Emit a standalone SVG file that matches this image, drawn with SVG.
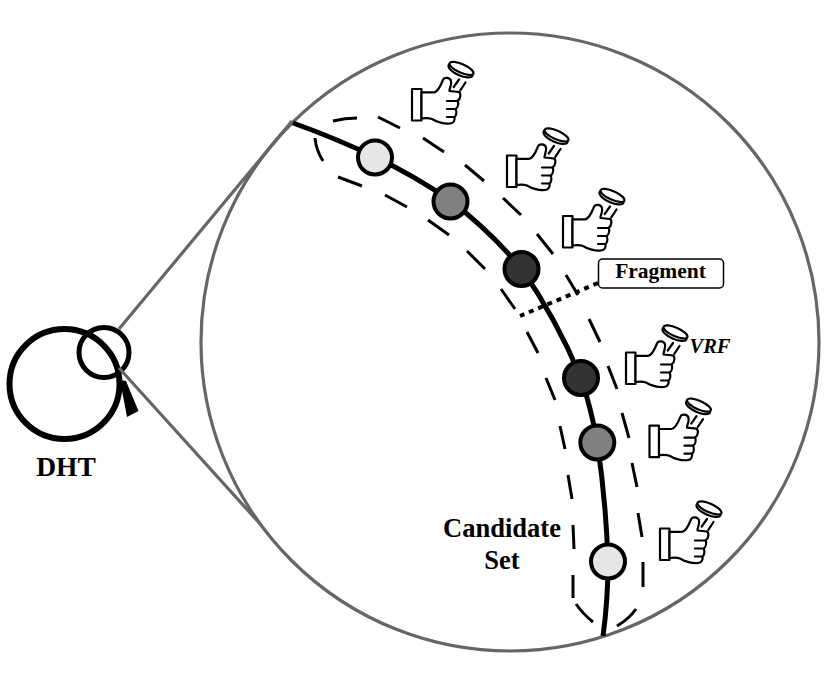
<svg xmlns="http://www.w3.org/2000/svg" width="831" height="684" viewBox="0 0 831 684">
<style>
.zoom{fill:none;stroke:#666;stroke-width:3.2}
.ring{fill:none;stroke:#000}
.node{stroke:#000;stroke-width:4}
.light{fill:#e6e6e6}.mid{fill:#808080}.dark{fill:#333}
.t{font-family:"Liberation Serif","Times New Roman",serif;font-weight:bold;fill:#000;text-anchor:middle}
.h{fill:#fff;stroke:#000;stroke-width:2.2;stroke-linejoin:round;stroke-linecap:round}
</style>
<defs>
<g id="hand">
<rect class="h" x="0" y="0" width="9.500" height="31.500"/>
<path class="h" d="M9.500 3.300H22C26 3 29 -4 31 -9C32 -12 38 -12 39 -8C40 -4 37 0 37.500 2L47 3C49 4 49 10 45.500 12C47 14 46 19 43.500 20C45 22 44.500 27 42.500 28C43 31 42 34 38 34.500C30 35 25 33 20 30C17 29 14 29 9.500 29.500Z"/>
<path class="h" fill="none" d="M35 12H45.500M35 20H43.500M35 28H42.500M41.700 -2L47 -9.500M48.300 1.300L53.500 -6.500"/>
<g transform="translate(49,-19.500) rotate(24)">
<ellipse class="h" cx="0" cy="1.200" rx="13" ry="4.800"/>
<ellipse class="h" cx="0" cy="-1.200" rx="13" ry="4.300"/>
</g>
</g>
</defs>
<g id="dht">
<circle class="ring" cx="64.500" cy="384" r="55" stroke-width="6"/>
<text class="t" x="66" y="476" font-size="27.500">DHT</text>
</g>
<g id="magnifier">
<circle class="ring" cx="104" cy="352.500" r="25" stroke-width="5"/>
<polygon points="120,380 126,381 138.500,411 127,417" fill="#000"/>
</g>
<g id="zoom-circle">
<circle class="zoom" cx="510" cy="342" r="309"/>
</g>
<g id="connectors">
<path class="zoom" d="M119 329L292 121M119 368L262 526"/>
<path id="ring-arc" fill="none" stroke="#000" stroke-width="5" d="M293 123Q335 138 375 157Q415 176 451 201Q490 231 521 268Q556 318 581 378Q591 408 597 441Q606 500 608 562Q608 600 603 636"/>
<path id="candidate-dash" fill="none" stroke="#000" stroke-width="3" d="M333 121Q345 118 357 118M378 117L400 128M423 138L444 152M465 165L484 181M503 198L521 215M537 234L553 254M566 275L578 295M589 319L600 342M608 366L617 389M622 413L629 438M632 463L637 487M638 513L642 537M643 562L643 587M636 609Q629 619 617 626M315 138Q316 150 323 161M338 177L362 186M385 195L407 207M428 220L449 235M467 251L485 269M501 289L515 309M527 332L538 353M546 378L555 400M560 426L565 449M568 475L572 499M573 525L574 549M573 575L573 598M576 604Q583 614 593 622"/>
<path id="fragment-link" fill="none" stroke="#000" stroke-width="4" stroke-dasharray="5 5" d="M598 283L520 316"/>
</g>
<g id="node-1"><circle class="node light" cx="375" cy="157.500" r="17"/></g>
<g id="node-2"><circle class="node mid" cx="450.500" cy="201.500" r="17"/></g>
<g id="node-3"><circle class="node dark" cx="521.500" cy="269" r="17"/></g>
<g id="node-4"><circle class="node dark" cx="581" cy="378" r="17"/></g>
<g id="node-5"><circle class="node mid" cx="597.300" cy="442.500" r="17"/></g>
<g id="node-6"><circle class="node light" cx="608" cy="561.500" r="17"/></g>
<g id="vote-1"><use href="#hand" x="412" y="89"/></g>
<g id="vote-2"><use href="#hand" x="507" y="155.500"/></g>
<g id="vote-3"><use href="#hand" x="563" y="216"/></g>
<g id="vote-4"><use href="#hand" x="626" y="352.500"/><text class="t" x="710" y="353" font-size="20.500" font-style="italic">VRF</text></g>
<g id="vote-5"><use href="#hand" x="649.500" y="425.700"/></g>
<g id="vote-6"><use href="#hand" x="660" y="528.500"/></g>
<g id="fragment">
<rect x="598.500" y="259" width="125" height="29" rx="4" fill="#fff" stroke="#000" stroke-width="1.500"/>
<text class="t" x="660.500" y="278" font-size="21.500">Fragment</text>
</g>
<g id="candidate-set">
<text class="t" x="502" y="537" font-size="26.500">Candidate</text>
<text class="t" x="502" y="569" font-size="26.500">Set</text>
</g>
</svg>
